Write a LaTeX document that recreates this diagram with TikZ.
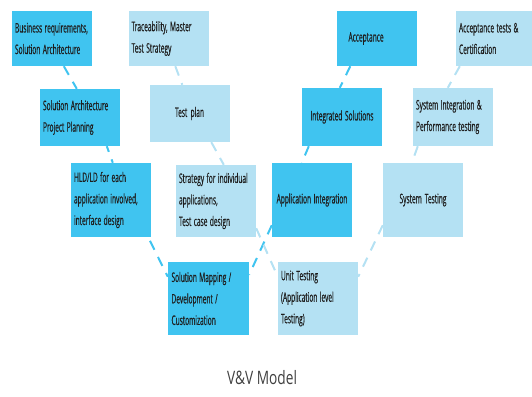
\documentclass[tikz,border=0pt]{standalone}
\usepackage{fontspec}
\usetikzlibrary{backgrounds}
\newfontfamily\boxfamily{Open Sans}[FakeStretch=0.5, FakeBold=0.4]
\newfontfamily\titlefamily{Open Sans}[FakeStretch=0.74]
\definecolor{dkblue}{RGB}{64,196,240}
\definecolor{ltblue}{RGB}{180,225,243}
\definecolor{txtgray}{RGB}{30,30,30}
\begin{document}
\begin{tikzpicture}[x=1pt,y=-1pt,
  box/.style={minimum width=80pt, inner xsep=3pt, inner ysep=0pt,
    text width=74pt, align=left, text=txtgray,
    font=\boxfamily\fontsize{13.2}{21.5}\selectfont,
    execute at begin node={\spaceskip=2.4pt plus 1pt minus 0.5pt\xspaceskip=2.6pt\relax}},
  dkbox/.style={box, fill=dkblue},
  ltbox/.style={box, fill=ltblue},
  link/.style={line width=2pt, dash pattern=on 10pt off 8pt},
  dklink/.style={link, draw=dkblue},
  ltlink/.style={link, draw=ltblue}]
\useasboundingbox (0,0) rectangle (532,396);
\clip (0,0) rectangle (532,396);

% development side (left arm of the V and top of the right arm)
\node[dkbox, minimum height=55pt] (b1) at (52,38.5) {Business requirements,\\Solution Architecture};
\node[dkbox, minimum height=57pt] (b2) at (80,117.5) {Solution Architecture\\Project Planning};
\node[dkbox, minimum height=74pt] (b3) at (111,200) {HLD/LD for each\\application involved,\\interface design};
\node[dkbox, minimum height=73pt, minimum width=81pt] (b4) at (208.5,298.5) {Solution Mapping /\\Development /\\Customization};
\node[dkbox, minimum height=74pt, align=center] (b5) at (312,200) {Application Integration};
\node[dkbox, minimum height=58pt, align=center] (b6) at (342,117) {Integrated Solutions};
\node[dkbox, minimum height=55pt, minimum width=79pt] (b7) at (376.5,38.5) {\hspace*{9pt}Acceptance};

% test side
\node[ltbox, minimum height=55pt, minimum width=79pt] (t1) at (168.5,38.5) {Traceability, Master\\Test Strategy};
\node[ltbox, minimum height=57pt, minimum width=79pt, align=center] (t2) at (189.5,113.5) {Test plan};
\node[ltbox, minimum height=72pt] (t3) at (216,201) {Strategy for individual\\applications,\\Test case design};
\node[ltbox, minimum height=73pt] (t4) at (318,298.5) {Unit Testing\\(Application level\\Testing)};
\node[ltbox, minimum height=74pt, align=center] (t5) at (423,200) {System Testing};
\node[ltbox, minimum height=58pt] (t6) at (453,117) {System Integration \&\\Performance testing};
\node[ltbox, minimum height=55pt] (t7) at (496,38.5) {Acceptance tests \&\\Certification};

\node[font=\titlefamily\fontsize{18.5}{20}\selectfont, text=txtgray!85] (title) at (262,378) {V\&V Model};

% dashed connectors behind the boxes
\begin{scope}[on background layer]
  \draw[dklink] ([xshift=52pt]b1.south west) -- ([xshift=37pt]b2.north west);
  \draw[dklink, dash phase=4pt] ([xshift=67pt]b2.south west) -- ([xshift=42pt]b3.north west);
  \draw[dklink, dash phase=14pt] ([xshift=-3pt]b3.south east) -- ([yshift=-15pt]b4.north west);
  \draw[dklink] ([yshift=12pt]b5.south west) -- ([yshift=-13pt]b4.north east);
  \draw[dklink] ([xshift=7pt]b6.south west) -- ([xshift=30pt]b5.north west);
  \draw[dklink] ([xshift=14pt]b7.south west) -- ([xshift=38pt]b6.north west);

  \draw[ltlink] ([xshift=47pt]t1.south west) -- ([xshift=33pt]t2.north west);
  \draw[ltlink] ([xshift=62pt]t2.south west) -- ([xshift=48pt]t3.north west);
  \draw[ltlink] ([yshift=9pt]t3.south east) -- ([yshift=-15pt]t4.north west);
  \draw[ltlink] ([yshift=12pt]t5.south west) -- ([yshift=-15pt]t4.north east);
  \draw[ltlink] ([xshift=5pt]t6.south west) -- ([xshift=29pt]t5.north west);
  \draw[ltlink] ([xshift=4pt]t7.south west) -- ([xshift=35pt]t6.north west);
\end{scope}
\end{tikzpicture}
\end{document}
